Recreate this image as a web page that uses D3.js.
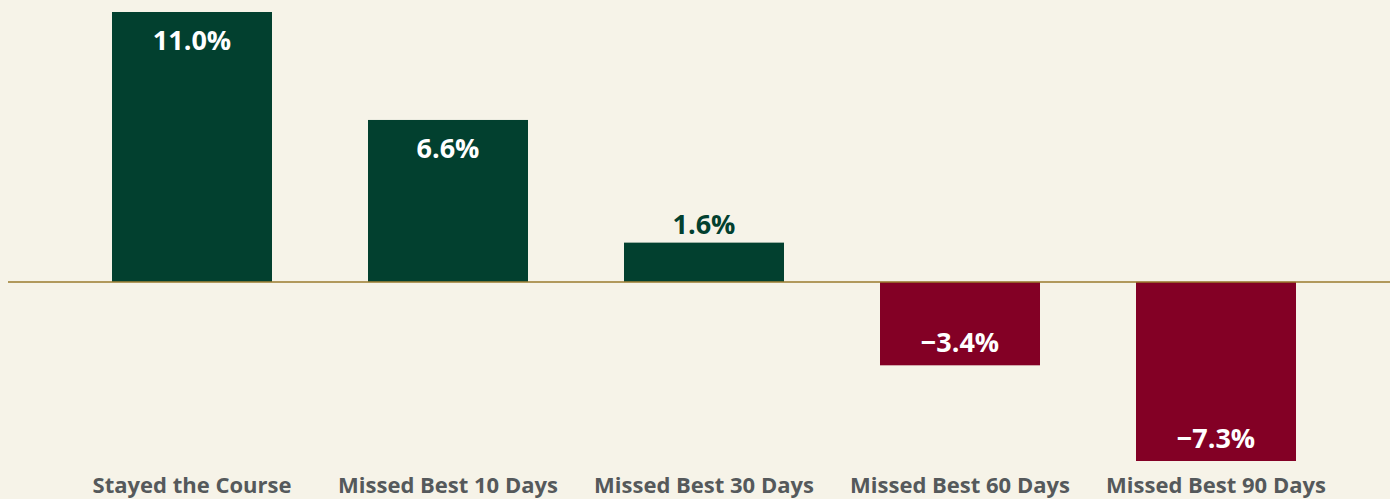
<!DOCTYPE html>
<html><head><meta charset="utf-8">
<script src="https://cdn.jsdelivr.net/npm/d3@7"></script>
<style>html,body{margin:0;padding:0;background:#f6f3e8;}svg{display:block;}</style>
</head><body>
<svg id="c" width="1390" height="499"></svg>
<script>
const categories = ["Stayed the Course","Missed Best 10 Days","Missed Best 30 Days","Missed Best 60 Days","Missed Best 90 Days"];
const values = [11.0, 6.6, 1.6, -3.4, -7.3];
const labels = ["11.0%","6.6%","1.6%","\u22123.4%","\u22127.3%"];

const svg = d3.select("#c");
svg.append("rect").attr("width",1390).attr("height",499).attr("fill","#f6f3e8");
const x = d3.scaleBand().domain(categories).range([64,1344]).paddingInner(0.375).paddingOuter(0.1875);
const y = d3.scaleLinear().domain([-7.3, 11.0]).range([461, 12]);
const font = "'Open Sans', 'Noto Sans', sans-serif";

svg.selectAll("rect.bar").data(values).enter().append("rect").attr("class","bar")
  .attr("x",(d,i)=>x(categories[i])).attr("width",x.bandwidth())
  .attr("y",d=>y(Math.max(0,d))).attr("height",d=>Math.abs(y(d)-y(0)))
  .attr("fill",d=>d>=0?"#02402f":"#830025");

svg.append("line").attr("x1",8).attr("x2",1390).attr("y1",y(0)).attr("y2",y(0))
  .attr("stroke","#9a7b2e").attr("stroke-width",1.5);

svg.selectAll("text.val").data(values).enter().append("text").attr("class","val")
  .attr("x",(d,i)=>x(categories[i])+x.bandwidth()/2)
  .attr("y",(d,i)=>{
    if (d>=0) { const h=y(0)-y(d); return h>60 ? y(d)+38 : y(d)-9; }
    return y(d)-13;
  })
  .attr("text-anchor","middle").attr("font-family",font).attr("font-weight",700).attr("font-size",27)
  .attr("fill",(d)=>{ const h=Math.abs(y(0)-y(d)); return (d>=0 && h<=60)?"#02402f":"#ffffff"; })
  .text((d,i)=>labels[i]);

svg.selectAll("text.cat").data(categories).enter().append("text").attr("class","cat")
  .attr("x",d=>x(d)+x.bandwidth()/2).attr("y",493)
  .attr("text-anchor","middle").attr("font-family",font).attr("font-weight",700).attr("font-size",22)
  .attr("fill","#55595b").text(d=>d);
</script>
</body></html>
